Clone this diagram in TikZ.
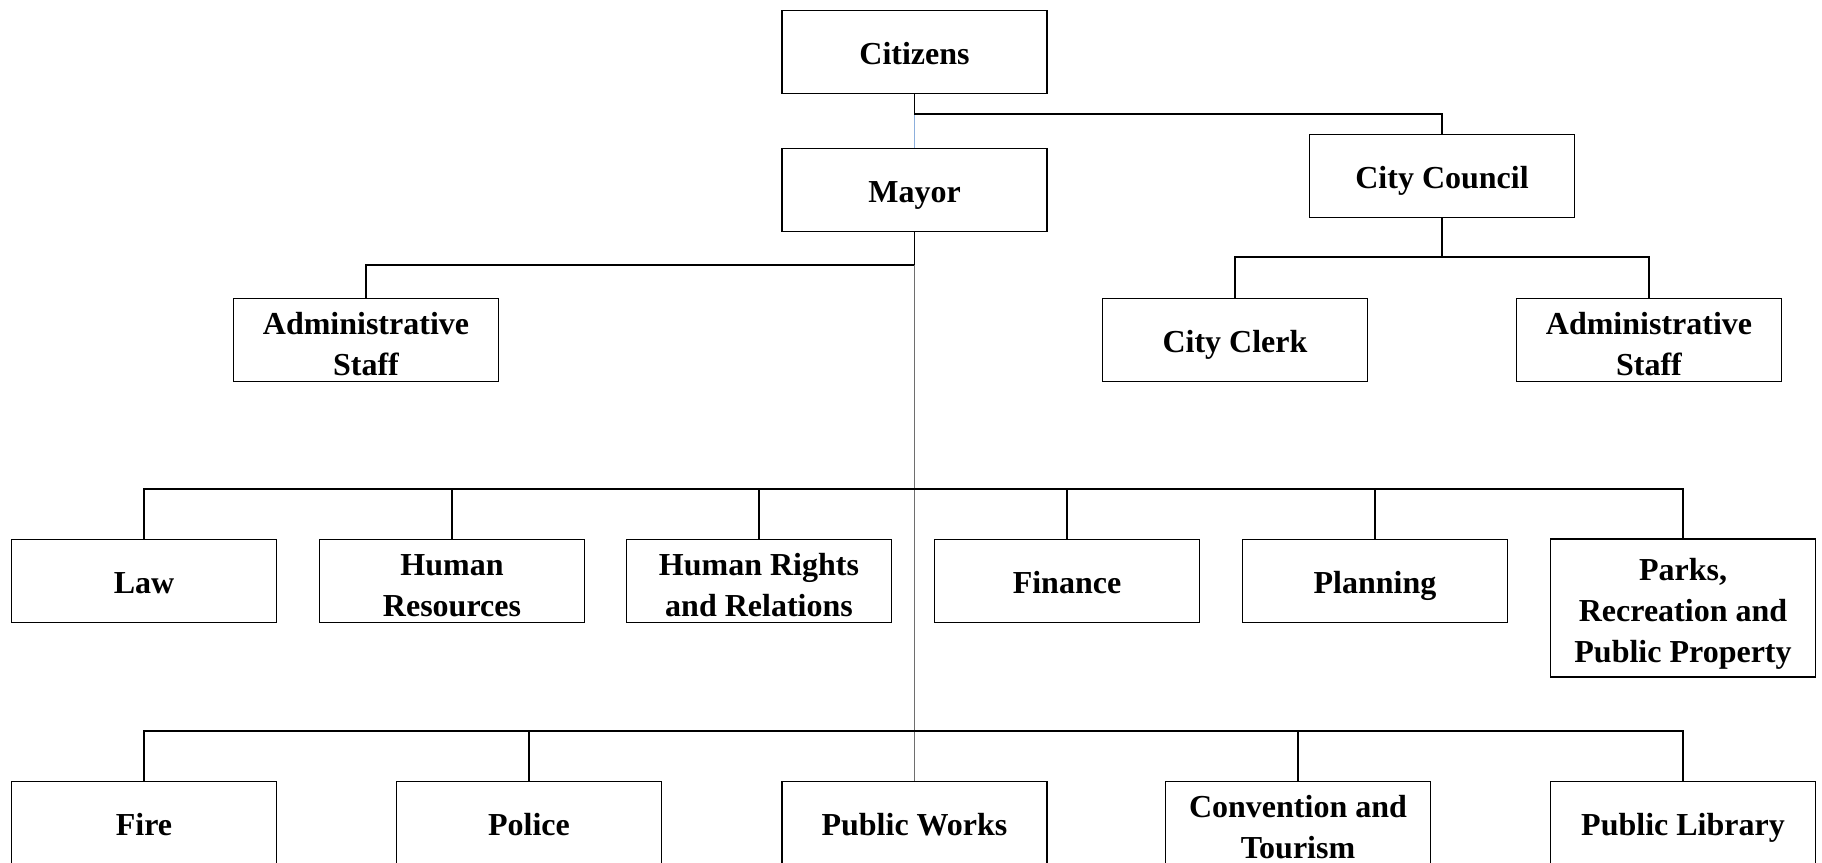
\documentclass[tikz,border=0pt]{standalone}
\usepackage{fontspec}
\setmainfont{Liberation Serif}
\definecolor{linkblue}{RGB}{140,175,220}
\definecolor{linkgray}{RGB}{110,110,110}

\begin{document}
\begin{tikzpicture}[x=1pt,y=-1pt,
	unit/.style={draw, line width=1.2pt, minimum width=265pt, minimum height=83pt, inner sep=0pt, align=center, font=\fontsize{32}{41}\selectfont\bfseries},
	single/.style={unit, text height=33pt, text depth=8pt},
	multi/.style={unit, text height=70pt, text depth=0pt},
	link/.style={line width=1.6pt},
	thinlink/.style={line width=0.8pt, draw=linkgray},
	bluelink/.style={line width=0.8pt, draw=linkblue}]
	\useasboundingbox (0,0) rectangle (1822,862);
	\clip (0,0) rectangle (1822,862);

	\node[single] (citizens) at (914.5,52) {Citizens};
	\node[single] (mayor) at (914.5,190) {Mayor};
	\node[single] (council) at (1442,176) {City Council};
	\node[multi] (staffm) at (366,340) {Administrative\\Staff};
	\node[single] (clerk) at (1235,340) {City Clerk};
	\node[multi] (staffc) at (1649,340) {Administrative\\Staff};

	\node[single] (law) at (144,581) {Law};
	\node[multi] (hr) at (452,581) {Human\\Resources};
	\node[multi] (rights) at (759,581) {Human Rights\\and Relations};
	\node[single] (finance) at (1067,581) {Finance};
	\node[single] (planning) at (1375,581) {Planning};
	\node[unit, text height=115pt, text depth=7pt, minimum height=138pt] (parks) at (1683,608) {Parks,\\Recreation and\\Public Property};

	\node[single] (fire) at (144,823) {Fire};
	\node[single] (police) at (529,823) {Police};
	\node[single] (works) at (914.5,823) {Public Works};
	\node[multi] (tourism) at (1298,823) {Convention and\\Tourism};
	\node[single] (library) at (1683,823) {Public Library};

	% junctions
	\coordinate (jc) at (914.5,114);
	\coordinate (jk) at (1442,257);
	\coordinate (jm) at (914.5,265);
	\coordinate (j1) at (914.5,489);
	\coordinate (j2) at (914.5,731);

	\draw[bluelink] (citizens.south) -- (mayor.north);
	\draw[link] (citizens.south) -- (jc) -| (council.north);
	\draw[link] (council.south) -- (jk) -| (clerk.north);
	\draw[link] (jk) -| (staffc.north);
	\draw[link] (mayor.south) -- (jm) -| (staffm.north);
	\draw[thinlink] (jm) -- (works.north);
	\foreach \n in {law,hr,rights,finance,planning,parks}
		\draw[link] (j1) -| (\n.north);
	\foreach \n in {fire,police,tourism,library}
		\draw[link] (j2) -| (\n.north);
\end{tikzpicture}
\end{document}
